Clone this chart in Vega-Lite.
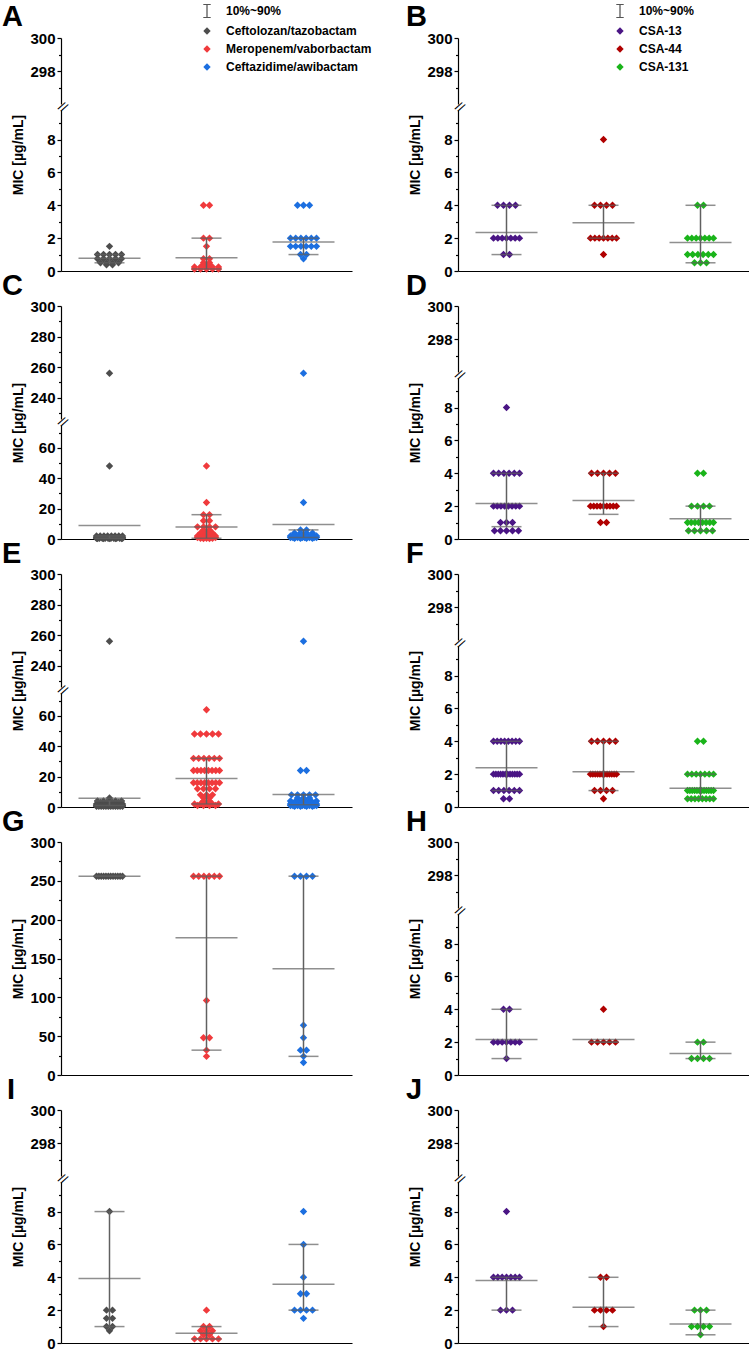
{
"$schema": "https://vega.github.io/schema/vega-lite/v6.json",
"padding": {"left": 2, "top": 3, "right": 0, "bottom": 2},
"background": "white",
"datasets": {
"pts": [
{"p":"A","g":"CT","v":1.5},{"p":"A","g":"CT","v":1},{"p":"A","g":"CT","v":1},{"p":"A","g":"CT","v":1},{"p":"A","g":"CT","v":1},{"p":"A","g":"CT","v":1},{"p":"A","g":"CT","v":0.75},{"p":"A","g":"CT","v":0.75},{"p":"A","g":"CT","v":0.75},{"p":"A","g":"CT","v":0.75},{"p":"A","g":"CT","v":0.75},{"p":"A","g":"CT","v":0.5},{"p":"A","g":"CT","v":0.5},{"p":"A","g":"CT","v":0.5},{"p":"A","g":"CT","v":0.5},{"p":"A","g":"CT","v":0.38},{"p":"A","g":"CT","v":0.38},
{"p":"A","g":"MV","v":4},{"p":"A","g":"MV","v":4},{"p":"A","g":"MV","v":2},{"p":"A","g":"MV","v":2},{"p":"A","g":"MV","v":1.5},{"p":"A","g":"MV","v":0.75},{"p":"A","g":"MV","v":0.75},{"p":"A","g":"MV","v":0.5},{"p":"A","g":"MV","v":0.5},{"p":"A","g":"MV","v":0.38},{"p":"A","g":"MV","v":0.38},{"p":"A","g":"MV","v":0.25},{"p":"A","g":"MV","v":0.25},{"p":"A","g":"MV","v":0.25},{"p":"A","g":"MV","v":0.25},{"p":"A","g":"MV","v":0.25},{"p":"A","g":"MV","v":0.125},{"p":"A","g":"MV","v":0.125},{"p":"A","g":"MV","v":0.125},{"p":"A","g":"MV","v":0.125},{"p":"A","g":"MV","v":0.125},
{"p":"A","g":"CA","v":4},{"p":"A","g":"CA","v":4},{"p":"A","g":"CA","v":4},{"p":"A","g":"CA","v":2},{"p":"A","g":"CA","v":2},{"p":"A","g":"CA","v":2},{"p":"A","g":"CA","v":2},{"p":"A","g":"CA","v":2},{"p":"A","g":"CA","v":2},{"p":"A","g":"CA","v":1.5},{"p":"A","g":"CA","v":1.5},{"p":"A","g":"CA","v":1.5},{"p":"A","g":"CA","v":1.5},{"p":"A","g":"CA","v":1.5},{"p":"A","g":"CA","v":1.5},{"p":"A","g":"CA","v":1},{"p":"A","g":"CA","v":1},{"p":"A","g":"CA","v":0.75},
{"p":"B","g":"CSA-13","v":4},{"p":"B","g":"CSA-13","v":4},{"p":"B","g":"CSA-13","v":4},{"p":"B","g":"CSA-13","v":4},{"p":"B","g":"CSA-13","v":2},{"p":"B","g":"CSA-13","v":2},{"p":"B","g":"CSA-13","v":2},{"p":"B","g":"CSA-13","v":2},{"p":"B","g":"CSA-13","v":2},{"p":"B","g":"CSA-13","v":2},{"p":"B","g":"CSA-13","v":2},{"p":"B","g":"CSA-13","v":1},{"p":"B","g":"CSA-13","v":1},
{"p":"B","g":"CSA-44","v":8},{"p":"B","g":"CSA-44","v":4},{"p":"B","g":"CSA-44","v":4},{"p":"B","g":"CSA-44","v":4},{"p":"B","g":"CSA-44","v":4},{"p":"B","g":"CSA-44","v":2},{"p":"B","g":"CSA-44","v":2},{"p":"B","g":"CSA-44","v":2},{"p":"B","g":"CSA-44","v":2},{"p":"B","g":"CSA-44","v":2},{"p":"B","g":"CSA-44","v":2},{"p":"B","g":"CSA-44","v":2},{"p":"B","g":"CSA-44","v":1},
{"p":"B","g":"CSA-131","v":4},{"p":"B","g":"CSA-131","v":4},{"p":"B","g":"CSA-131","v":2},{"p":"B","g":"CSA-131","v":2},{"p":"B","g":"CSA-131","v":2},{"p":"B","g":"CSA-131","v":2},{"p":"B","g":"CSA-131","v":2},{"p":"B","g":"CSA-131","v":2},{"p":"B","g":"CSA-131","v":2},{"p":"B","g":"CSA-131","v":1},{"p":"B","g":"CSA-131","v":1},{"p":"B","g":"CSA-131","v":1},{"p":"B","g":"CSA-131","v":1},{"p":"B","g":"CSA-131","v":1},{"p":"B","g":"CSA-131","v":1},{"p":"B","g":"CSA-131","v":0.5},{"p":"B","g":"CSA-131","v":0.5},{"p":"B","g":"CSA-131","v":0.5},
{"p":"C","g":"CT","v":256},{"p":"C","g":"CT","v":48},{"p":"C","g":"CT","v":2},{"p":"C","g":"CT","v":2},{"p":"C","g":"CT","v":2},{"p":"C","g":"CT","v":2},{"p":"C","g":"CT","v":2},{"p":"C","g":"CT","v":2},{"p":"C","g":"CT","v":2},{"p":"C","g":"CT","v":2},{"p":"C","g":"CT","v":1},{"p":"C","g":"CT","v":1},{"p":"C","g":"CT","v":1},{"p":"C","g":"CT","v":1},{"p":"C","g":"CT","v":1},{"p":"C","g":"CT","v":1},{"p":"C","g":"CT","v":1},{"p":"C","g":"CT","v":1},{"p":"C","g":"CT","v":1},{"p":"C","g":"CT","v":1},{"p":"C","g":"CT","v":0.5},{"p":"C","g":"CT","v":0.5},{"p":"C","g":"CT","v":0.5},{"p":"C","g":"CT","v":0.5},{"p":"C","g":"CT","v":0.5},{"p":"C","g":"CT","v":0.5},{"p":"C","g":"CT","v":0.5},{"p":"C","g":"CT","v":0.5},{"p":"C","g":"CT","v":0.5},{"p":"C","g":"CT","v":0.5},{"p":"C","g":"CT","v":0.25},{"p":"C","g":"CT","v":0.25},{"p":"C","g":"CT","v":0.25},{"p":"C","g":"CT","v":0.25},{"p":"C","g":"CT","v":0.25},
{"p":"C","g":"MV","v":48},{"p":"C","g":"MV","v":24},{"p":"C","g":"MV","v":16},{"p":"C","g":"MV","v":16},{"p":"C","g":"MV","v":12},{"p":"C","g":"MV","v":12},{"p":"C","g":"MV","v":8},{"p":"C","g":"MV","v":8},{"p":"C","g":"MV","v":8},{"p":"C","g":"MV","v":8},{"p":"C","g":"MV","v":6},{"p":"C","g":"MV","v":6},{"p":"C","g":"MV","v":4},{"p":"C","g":"MV","v":4},{"p":"C","g":"MV","v":4},{"p":"C","g":"MV","v":3},{"p":"C","g":"MV","v":2},{"p":"C","g":"MV","v":2},{"p":"C","g":"MV","v":2},{"p":"C","g":"MV","v":2},{"p":"C","g":"MV","v":1},{"p":"C","g":"MV","v":1},{"p":"C","g":"MV","v":1},{"p":"C","g":"MV","v":1},{"p":"C","g":"MV","v":0.5},{"p":"C","g":"MV","v":0.5},{"p":"C","g":"MV","v":0.5},{"p":"C","g":"MV","v":0.25},{"p":"C","g":"MV","v":0.25},
{"p":"C","g":"CA","v":256},{"p":"C","g":"CA","v":24},{"p":"C","g":"CA","v":6},{"p":"C","g":"CA","v":6},{"p":"C","g":"CA","v":4},{"p":"C","g":"CA","v":4},{"p":"C","g":"CA","v":4},{"p":"C","g":"CA","v":4},{"p":"C","g":"CA","v":3},{"p":"C","g":"CA","v":3},{"p":"C","g":"CA","v":3},{"p":"C","g":"CA","v":3},{"p":"C","g":"CA","v":2},{"p":"C","g":"CA","v":2},{"p":"C","g":"CA","v":2},{"p":"C","g":"CA","v":2},{"p":"C","g":"CA","v":2},{"p":"C","g":"CA","v":2},{"p":"C","g":"CA","v":1},{"p":"C","g":"CA","v":1},{"p":"C","g":"CA","v":1},{"p":"C","g":"CA","v":1},{"p":"C","g":"CA","v":1},{"p":"C","g":"CA","v":1},{"p":"C","g":"CA","v":1},{"p":"C","g":"CA","v":1},{"p":"C","g":"CA","v":1},{"p":"C","g":"CA","v":1},{"p":"C","g":"CA","v":1},{"p":"C","g":"CA","v":1},{"p":"C","g":"CA","v":0.5},{"p":"C","g":"CA","v":0.5},{"p":"C","g":"CA","v":0.5},{"p":"C","g":"CA","v":0.5},
{"p":"D","g":"CSA-13","v":8},{"p":"D","g":"CSA-13","v":4},{"p":"D","g":"CSA-13","v":4},{"p":"D","g":"CSA-13","v":4},{"p":"D","g":"CSA-13","v":4},{"p":"D","g":"CSA-13","v":4},{"p":"D","g":"CSA-13","v":4},{"p":"D","g":"CSA-13","v":2},{"p":"D","g":"CSA-13","v":2},{"p":"D","g":"CSA-13","v":2},{"p":"D","g":"CSA-13","v":2},{"p":"D","g":"CSA-13","v":2},{"p":"D","g":"CSA-13","v":2},{"p":"D","g":"CSA-13","v":2},{"p":"D","g":"CSA-13","v":2},{"p":"D","g":"CSA-13","v":1},{"p":"D","g":"CSA-13","v":1},{"p":"D","g":"CSA-13","v":1},{"p":"D","g":"CSA-13","v":0.5},{"p":"D","g":"CSA-13","v":0.5},{"p":"D","g":"CSA-13","v":0.5},{"p":"D","g":"CSA-13","v":0.5},{"p":"D","g":"CSA-13","v":0.5},
{"p":"D","g":"CSA-44","v":4},{"p":"D","g":"CSA-44","v":4},{"p":"D","g":"CSA-44","v":4},{"p":"D","g":"CSA-44","v":4},{"p":"D","g":"CSA-44","v":4},{"p":"D","g":"CSA-44","v":2},{"p":"D","g":"CSA-44","v":2},{"p":"D","g":"CSA-44","v":2},{"p":"D","g":"CSA-44","v":2},{"p":"D","g":"CSA-44","v":2},{"p":"D","g":"CSA-44","v":2},{"p":"D","g":"CSA-44","v":2},{"p":"D","g":"CSA-44","v":2},{"p":"D","g":"CSA-44","v":2},{"p":"D","g":"CSA-44","v":1},{"p":"D","g":"CSA-44","v":1},
{"p":"D","g":"CSA-131","v":4},{"p":"D","g":"CSA-131","v":4},{"p":"D","g":"CSA-131","v":2},{"p":"D","g":"CSA-131","v":2},{"p":"D","g":"CSA-131","v":2},{"p":"D","g":"CSA-131","v":2},{"p":"D","g":"CSA-131","v":1},{"p":"D","g":"CSA-131","v":1},{"p":"D","g":"CSA-131","v":1},{"p":"D","g":"CSA-131","v":1},{"p":"D","g":"CSA-131","v":1},{"p":"D","g":"CSA-131","v":1},{"p":"D","g":"CSA-131","v":1},{"p":"D","g":"CSA-131","v":1},{"p":"D","g":"CSA-131","v":0.5},{"p":"D","g":"CSA-131","v":0.5},{"p":"D","g":"CSA-131","v":0.5},{"p":"D","g":"CSA-131","v":0.5},{"p":"D","g":"CSA-131","v":0.5},
{"p":"E","g":"CT","v":256},{"p":"E","g":"CT","v":6},{"p":"E","g":"CT","v":4},{"p":"E","g":"CT","v":4},{"p":"E","g":"CT","v":4},{"p":"E","g":"CT","v":4},{"p":"E","g":"CT","v":4},{"p":"E","g":"CT","v":3},{"p":"E","g":"CT","v":3},{"p":"E","g":"CT","v":3},{"p":"E","g":"CT","v":3},{"p":"E","g":"CT","v":2},{"p":"E","g":"CT","v":2},{"p":"E","g":"CT","v":2},{"p":"E","g":"CT","v":2},{"p":"E","g":"CT","v":2},{"p":"E","g":"CT","v":2},{"p":"E","g":"CT","v":2},{"p":"E","g":"CT","v":2},{"p":"E","g":"CT","v":2},{"p":"E","g":"CT","v":2},{"p":"E","g":"CT","v":2},{"p":"E","g":"CT","v":2},{"p":"E","g":"CT","v":1.5},{"p":"E","g":"CT","v":1.5},{"p":"E","g":"CT","v":1.5},{"p":"E","g":"CT","v":1.5},{"p":"E","g":"CT","v":1.5},{"p":"E","g":"CT","v":1},{"p":"E","g":"CT","v":1},{"p":"E","g":"CT","v":1},{"p":"E","g":"CT","v":1},{"p":"E","g":"CT","v":1},{"p":"E","g":"CT","v":1},{"p":"E","g":"CT","v":1},{"p":"E","g":"CT","v":1},{"p":"E","g":"CT","v":1},{"p":"E","g":"CT","v":1},{"p":"E","g":"CT","v":1},{"p":"E","g":"CT","v":1},{"p":"E","g":"CT","v":1},{"p":"E","g":"CT","v":1},{"p":"E","g":"CT","v":1},{"p":"E","g":"CT","v":0.5},{"p":"E","g":"CT","v":0.5},{"p":"E","g":"CT","v":0.5},{"p":"E","g":"CT","v":0.5},{"p":"E","g":"CT","v":0.5},{"p":"E","g":"CT","v":0.5},{"p":"E","g":"CT","v":0.5},{"p":"E","g":"CT","v":0.5},{"p":"E","g":"CT","v":0.5},{"p":"E","g":"CT","v":0.5},{"p":"E","g":"CT","v":0.5},{"p":"E","g":"CT","v":0.5},
{"p":"E","g":"MV","v":64},{"p":"E","g":"MV","v":48},{"p":"E","g":"MV","v":48},{"p":"E","g":"MV","v":48},{"p":"E","g":"MV","v":48},{"p":"E","g":"MV","v":48},{"p":"E","g":"MV","v":32},{"p":"E","g":"MV","v":32},{"p":"E","g":"MV","v":32},{"p":"E","g":"MV","v":32},{"p":"E","g":"MV","v":32},{"p":"E","g":"MV","v":32},{"p":"E","g":"MV","v":24},{"p":"E","g":"MV","v":24},{"p":"E","g":"MV","v":24},{"p":"E","g":"MV","v":24},{"p":"E","g":"MV","v":24},{"p":"E","g":"MV","v":24},{"p":"E","g":"MV","v":24},{"p":"E","g":"MV","v":24},{"p":"E","g":"MV","v":16},{"p":"E","g":"MV","v":16},{"p":"E","g":"MV","v":16},{"p":"E","g":"MV","v":16},{"p":"E","g":"MV","v":16},{"p":"E","g":"MV","v":16},{"p":"E","g":"MV","v":16},{"p":"E","g":"MV","v":16},{"p":"E","g":"MV","v":12},{"p":"E","g":"MV","v":12},{"p":"E","g":"MV","v":12},{"p":"E","g":"MV","v":12},{"p":"E","g":"MV","v":8},{"p":"E","g":"MV","v":8},{"p":"E","g":"MV","v":8},{"p":"E","g":"MV","v":6},{"p":"E","g":"MV","v":6},{"p":"E","g":"MV","v":4},{"p":"E","g":"MV","v":4},{"p":"E","g":"MV","v":2},{"p":"E","g":"MV","v":2},{"p":"E","g":"MV","v":2},{"p":"E","g":"MV","v":2},{"p":"E","g":"MV","v":2},{"p":"E","g":"MV","v":1},{"p":"E","g":"MV","v":1},{"p":"E","g":"MV","v":1},{"p":"E","g":"MV","v":1},
{"p":"E","g":"CA","v":256},{"p":"E","g":"CA","v":24},{"p":"E","g":"CA","v":24},{"p":"E","g":"CA","v":8},{"p":"E","g":"CA","v":8},{"p":"E","g":"CA","v":8},{"p":"E","g":"CA","v":8},{"p":"E","g":"CA","v":8},{"p":"E","g":"CA","v":6},{"p":"E","g":"CA","v":6},{"p":"E","g":"CA","v":6},{"p":"E","g":"CA","v":4},{"p":"E","g":"CA","v":4},{"p":"E","g":"CA","v":4},{"p":"E","g":"CA","v":4},{"p":"E","g":"CA","v":4},{"p":"E","g":"CA","v":4},{"p":"E","g":"CA","v":3},{"p":"E","g":"CA","v":3},{"p":"E","g":"CA","v":3},{"p":"E","g":"CA","v":3},{"p":"E","g":"CA","v":3},{"p":"E","g":"CA","v":2},{"p":"E","g":"CA","v":2},{"p":"E","g":"CA","v":2},{"p":"E","g":"CA","v":2},{"p":"E","g":"CA","v":2},{"p":"E","g":"CA","v":2},{"p":"E","g":"CA","v":2},{"p":"E","g":"CA","v":2},{"p":"E","g":"CA","v":2},{"p":"E","g":"CA","v":2},{"p":"E","g":"CA","v":2},{"p":"E","g":"CA","v":2},{"p":"E","g":"CA","v":2},{"p":"E","g":"CA","v":2},{"p":"E","g":"CA","v":1},{"p":"E","g":"CA","v":1},{"p":"E","g":"CA","v":1},{"p":"E","g":"CA","v":1},{"p":"E","g":"CA","v":1},{"p":"E","g":"CA","v":1},{"p":"E","g":"CA","v":1},{"p":"E","g":"CA","v":1},{"p":"E","g":"CA","v":1},{"p":"E","g":"CA","v":1},{"p":"E","g":"CA","v":1},{"p":"E","g":"CA","v":1},{"p":"E","g":"CA","v":0.5},{"p":"E","g":"CA","v":0.5},{"p":"E","g":"CA","v":0.5},{"p":"E","g":"CA","v":0.5},
{"p":"F","g":"CSA-13","v":4},{"p":"F","g":"CSA-13","v":4},{"p":"F","g":"CSA-13","v":4},{"p":"F","g":"CSA-13","v":4},{"p":"F","g":"CSA-13","v":4},{"p":"F","g":"CSA-13","v":4},{"p":"F","g":"CSA-13","v":4},{"p":"F","g":"CSA-13","v":4},{"p":"F","g":"CSA-13","v":2},{"p":"F","g":"CSA-13","v":2},{"p":"F","g":"CSA-13","v":2},{"p":"F","g":"CSA-13","v":2},{"p":"F","g":"CSA-13","v":2},{"p":"F","g":"CSA-13","v":2},{"p":"F","g":"CSA-13","v":2},{"p":"F","g":"CSA-13","v":2},{"p":"F","g":"CSA-13","v":2},{"p":"F","g":"CSA-13","v":2},{"p":"F","g":"CSA-13","v":2},{"p":"F","g":"CSA-13","v":2},{"p":"F","g":"CSA-13","v":1},{"p":"F","g":"CSA-13","v":1},{"p":"F","g":"CSA-13","v":1},{"p":"F","g":"CSA-13","v":1},{"p":"F","g":"CSA-13","v":1},{"p":"F","g":"CSA-13","v":1},{"p":"F","g":"CSA-13","v":0.5},{"p":"F","g":"CSA-13","v":0.5},
{"p":"F","g":"CSA-44","v":4},{"p":"F","g":"CSA-44","v":4},{"p":"F","g":"CSA-44","v":4},{"p":"F","g":"CSA-44","v":4},{"p":"F","g":"CSA-44","v":4},{"p":"F","g":"CSA-44","v":2},{"p":"F","g":"CSA-44","v":2},{"p":"F","g":"CSA-44","v":2},{"p":"F","g":"CSA-44","v":2},{"p":"F","g":"CSA-44","v":2},{"p":"F","g":"CSA-44","v":2},{"p":"F","g":"CSA-44","v":2},{"p":"F","g":"CSA-44","v":2},{"p":"F","g":"CSA-44","v":2},{"p":"F","g":"CSA-44","v":2},{"p":"F","g":"CSA-44","v":2},{"p":"F","g":"CSA-44","v":2},{"p":"F","g":"CSA-44","v":1},{"p":"F","g":"CSA-44","v":1},{"p":"F","g":"CSA-44","v":1},{"p":"F","g":"CSA-44","v":1},{"p":"F","g":"CSA-44","v":0.5},
{"p":"F","g":"CSA-131","v":4},{"p":"F","g":"CSA-131","v":4},{"p":"F","g":"CSA-131","v":2},{"p":"F","g":"CSA-131","v":2},{"p":"F","g":"CSA-131","v":2},{"p":"F","g":"CSA-131","v":2},{"p":"F","g":"CSA-131","v":2},{"p":"F","g":"CSA-131","v":2},{"p":"F","g":"CSA-131","v":2},{"p":"F","g":"CSA-131","v":1},{"p":"F","g":"CSA-131","v":1},{"p":"F","g":"CSA-131","v":1},{"p":"F","g":"CSA-131","v":1},{"p":"F","g":"CSA-131","v":1},{"p":"F","g":"CSA-131","v":1},{"p":"F","g":"CSA-131","v":1},{"p":"F","g":"CSA-131","v":1},{"p":"F","g":"CSA-131","v":1},{"p":"F","g":"CSA-131","v":1},{"p":"F","g":"CSA-131","v":1},{"p":"F","g":"CSA-131","v":1},{"p":"F","g":"CSA-131","v":0.5},{"p":"F","g":"CSA-131","v":0.5},{"p":"F","g":"CSA-131","v":0.5},{"p":"F","g":"CSA-131","v":0.5},{"p":"F","g":"CSA-131","v":0.5},{"p":"F","g":"CSA-131","v":0.5},{"p":"F","g":"CSA-131","v":0.5},{"p":"F","g":"CSA-131","v":0.5},
{"p":"G","g":"CT","v":256},{"p":"G","g":"CT","v":256},{"p":"G","g":"CT","v":256},{"p":"G","g":"CT","v":256},{"p":"G","g":"CT","v":256},{"p":"G","g":"CT","v":256},{"p":"G","g":"CT","v":256},{"p":"G","g":"CT","v":256},{"p":"G","g":"CT","v":256},{"p":"G","g":"CT","v":256},{"p":"G","g":"CT","v":256},{"p":"G","g":"CT","v":256},
{"p":"G","g":"MV","v":256},{"p":"G","g":"MV","v":256},{"p":"G","g":"MV","v":256},{"p":"G","g":"MV","v":256},{"p":"G","g":"MV","v":256},{"p":"G","g":"MV","v":256},{"p":"G","g":"MV","v":96},{"p":"G","g":"MV","v":48},{"p":"G","g":"MV","v":48},{"p":"G","g":"MV","v":32},{"p":"G","g":"MV","v":24},
{"p":"G","g":"CA","v":256},{"p":"G","g":"CA","v":256},{"p":"G","g":"CA","v":256},{"p":"G","g":"CA","v":256},{"p":"G","g":"CA","v":64},{"p":"G","g":"CA","v":48},{"p":"G","g":"CA","v":32},{"p":"G","g":"CA","v":32},{"p":"G","g":"CA","v":24},{"p":"G","g":"CA","v":16},
{"p":"H","g":"CSA-13","v":4},{"p":"H","g":"CSA-13","v":4},{"p":"H","g":"CSA-13","v":2},{"p":"H","g":"CSA-13","v":2},{"p":"H","g":"CSA-13","v":2},{"p":"H","g":"CSA-13","v":2},{"p":"H","g":"CSA-13","v":2},{"p":"H","g":"CSA-13","v":2},{"p":"H","g":"CSA-13","v":2},{"p":"H","g":"CSA-13","v":1},
{"p":"H","g":"CSA-44","v":4},{"p":"H","g":"CSA-44","v":2},{"p":"H","g":"CSA-44","v":2},{"p":"H","g":"CSA-44","v":2},{"p":"H","g":"CSA-44","v":2},{"p":"H","g":"CSA-44","v":2},
{"p":"H","g":"CSA-131","v":2},{"p":"H","g":"CSA-131","v":2},{"p":"H","g":"CSA-131","v":1},{"p":"H","g":"CSA-131","v":1},{"p":"H","g":"CSA-131","v":1},{"p":"H","g":"CSA-131","v":1},
{"p":"I","g":"CT","v":8},{"p":"I","g":"CT","v":2},{"p":"I","g":"CT","v":2},{"p":"I","g":"CT","v":1.5},{"p":"I","g":"CT","v":1.5},{"p":"I","g":"CT","v":1},{"p":"I","g":"CT","v":1},{"p":"I","g":"CT","v":0.75},
{"p":"I","g":"MV","v":2},{"p":"I","g":"MV","v":1},{"p":"I","g":"MV","v":1},{"p":"I","g":"MV","v":0.75},{"p":"I","g":"MV","v":0.75},{"p":"I","g":"MV","v":0.75},{"p":"I","g":"MV","v":0.5},{"p":"I","g":"MV","v":0.5},{"p":"I","g":"MV","v":0.25},{"p":"I","g":"MV","v":0.25},{"p":"I","g":"MV","v":0.25},{"p":"I","g":"MV","v":0.25},{"p":"I","g":"MV","v":0.25},
{"p":"I","g":"CA","v":8},{"p":"I","g":"CA","v":6},{"p":"I","g":"CA","v":4},{"p":"I","g":"CA","v":3},{"p":"I","g":"CA","v":3},{"p":"I","g":"CA","v":2},{"p":"I","g":"CA","v":2},{"p":"I","g":"CA","v":2},{"p":"I","g":"CA","v":2},{"p":"I","g":"CA","v":1.5},
{"p":"J","g":"CSA-13","v":8},{"p":"J","g":"CSA-13","v":4},{"p":"J","g":"CSA-13","v":4},{"p":"J","g":"CSA-13","v":4},{"p":"J","g":"CSA-13","v":4},{"p":"J","g":"CSA-13","v":4},{"p":"J","g":"CSA-13","v":4},{"p":"J","g":"CSA-13","v":4},{"p":"J","g":"CSA-13","v":2},{"p":"J","g":"CSA-13","v":2},{"p":"J","g":"CSA-13","v":2},
{"p":"J","g":"CSA-44","v":4},{"p":"J","g":"CSA-44","v":4},{"p":"J","g":"CSA-44","v":2},{"p":"J","g":"CSA-44","v":2},{"p":"J","g":"CSA-44","v":2},{"p":"J","g":"CSA-44","v":2},{"p":"J","g":"CSA-44","v":1},
{"p":"J","g":"CSA-131","v":2},{"p":"J","g":"CSA-131","v":2},{"p":"J","g":"CSA-131","v":2},{"p":"J","g":"CSA-131","v":1},{"p":"J","g":"CSA-131","v":1},{"p":"J","g":"CSA-131","v":1},{"p":"J","g":"CSA-131","v":1},{"p":"J","g":"CSA-131","v":0.5}
],
"st": [
{"p":"A","g":"CT","m":0.78,"lo":0.5,"hi":1},{"p":"A","g":"MV","m":0.8,"lo":0.125,"hi":2},{"p":"A","g":"CA","m":1.76,"lo":1,"hi":2},
{"p":"B","g":"CSA-13","m":2.35,"lo":1,"hi":4},{"p":"B","g":"CSA-44","m":2.94,"lo":2,"hi":4},{"p":"B","g":"CSA-131","m":1.73,"lo":0.5,"hi":4},
{"p":"C","g":"CT","m":8.8,"lo":0.5,"hi":2},{"p":"C","g":"MV","m":7.9,"lo":0.5,"hi":16},{"p":"C","g":"CA","m":9.6,"lo":1,"hi":6},
{"p":"D","g":"CSA-13","m":2.16,"lo":0.75,"hi":4},{"p":"D","g":"CSA-44","m":2.35,"lo":1.5,"hi":4},{"p":"D","g":"CSA-131","m":1.24,"lo":0.5,"hi":2},
{"p":"E","g":"CT","m":5.7,"lo":1,"hi":4},{"p":"E","g":"MV","m":18.8,"lo":2,"hi":32},{"p":"E","g":"CA","m":8.3,"lo":1.5,"hi":8},
{"p":"F","g":"CSA-13","m":2.39,"lo":1,"hi":4},{"p":"F","g":"CSA-44","m":2.14,"lo":1,"hi":4},{"p":"F","g":"CSA-131","m":1.14,"lo":0.5,"hi":2},
{"p":"G","g":"CT","m":256,"lo":256,"hi":256},{"p":"G","g":"MV","m":176.8,"lo":32,"hi":256},{"p":"G","g":"CA","m":136.9,"lo":24,"hi":256},
{"p":"H","g":"CSA-13","m":2.16,"lo":1,"hi":4},{"p":"H","g":"CSA-44","m":2.16,"lo":2,"hi":2},{"p":"H","g":"CSA-131","m":1.31,"lo":1,"hi":2},
{"p":"I","g":"CT","m":3.92,"lo":1,"hi":8},{"p":"I","g":"MV","m":0.6,"lo":0.25,"hi":1},{"p":"I","g":"CA","m":3.57,"lo":2,"hi":6},
{"p":"J","g":"CSA-13","m":3.8,"lo":2,"hi":4},{"p":"J","g":"CSA-44","m":2.18,"lo":1,"hi":4},{"p":"J","g":"CSA-131","m":1.16,"lo":0.5,"hi":2}
],
"one": [{"k": 1}]
},
"config": {
"view": {"stroke": null},
"font": "Liberation Sans",
"point": {"shape": "diamond", "filled": true, "size": 55, "opacity": 1, "strokeWidth": 0},
"rule": {"color": "#606060", "strokeWidth": 1.5},
"tick": {"color": "#606060", "thickness": 1.5},
"text": {"text": "//", "font": "Liberation Sans", "fontSize": 13, "angle": 33, "align": "center", "baseline": "middle", "dy": -3, "color": "black"},
"axis": {"labelFont": "Liberation Sans", "labelFontSize": 15, "labelFontWeight": "bold", "labelColor": "black", "labelPadding": 2, "labelFlush": false, "labelOverlap": false, "domainColor": "black", "domainWidth": 1.2, "tickColor": "black", "tickWidth": 1.2, "tickSize": 4, "grid": false, "titleFont": "Liberation Sans", "titleFontSize": 14, "titleFontWeight": "bold", "titleColor": "black"},
"legend": {"orient": "none", "title": null, "padding": 0, "symbolSize": 55, "symbolStrokeWidth": 0, "labelFont": "Liberation Sans", "labelFontSize": 12, "labelFontWeight": "bold", "labelColor": "black", "rowPadding": 6, "labelOffset": 13},
"title": {"anchor": "start", "frame": "group", "fontSize": 29, "fontWeight": "bold", "font": "Liberation Sans", "color": "black", "offset": -2}
},
"columns": 2,
"spacing": {"row": 35, "column": 106},
"bounds": "flush",
"resolve": {"scale": {"x": "independent", "y": "independent", "color": "independent", "shape": "independent", "xOffset": "independent"}, "axis": {"x": "independent", "y": "independent"}, "legend": {"color": "independent", "shape": "independent"}},
"concat": [
{"width": 291, "height": 233, "title": {"text": "A", "dx": -59, "offset": -27},
 "encoding": {"x": {"field": "g", "type": "nominal", "scale": {"domain": ["CT","MV","CA"], "paddingInner": 0, "paddingOuter": 0}, "axis": {"domain": true, "ticks": false, "labels": false, "title": null}}},
 "layer": [
  {"data": {"name": "pts"}, "transform": [{"filter": "datum.p==='A' && datum.v>=296"}], "mark": "point",
   "encoding": {"y": {"field": "v", "type": "quantitative", "scale": {"domain": [296,300], "range": [66,0], "nice": false, "zero": false}, "axis": {"values": [298,300], "orient": "left", "title": null}}}},
  {"data": {"name": "pts"}, "transform": [{"filter": "false"}], "mark": "point",
   "encoding": {"y": {"field": "v", "type": "quantitative", "scale": {"domain": [296,300], "range": [66,0], "nice": false, "zero": false}, "axis": {"values": [297,299], "orient": "left", "labels": false, "domain": false, "tickSize": 2.5, "title": null}}}},
  {"data": {"name": "pts"}, "transform": [{"filter": "datum.p==='A' && datum.v<=9.8"}, {"joinaggregate": [{"op": "count", "as": "n"}], "groupby": ["g","v"]}, {"window": [{"op": "row_number", "as": "i"}], "groupby": ["g","v"]}, {"calculate": "(datum.i-(datum.n+1)/2)*min(6,26/max(datum.n-1,1))", "as": "jit"}], "mark": "point",
   "encoding": {"xOffset": {"field": "jit", "type": "quantitative", "scale": {"domain": [-48.5,48.5]}},
    "y": {"field": "v", "type": "quantitative", "scale": {"domain": [0,9.8], "range": [233,72], "nice": false, "zero": false}, "axis": {"values": [0,2,4,6,8], "orient": "left", "title": "MIC [µg/mL]", "titleX": -43, "titleY": 116.5, "titleAngle": -90, "titleAlign": "center", "titleBaseline": "middle"}},
    "color": {"field": "g", "type": "nominal", "scale": {"domain": ["Q","CT","MV","CA"], "range": ["#555555","#4d4d4d","#f03a3c","#1c6fe0"]}, "legend": {"legendX": 140, "legendY": -33, "labelExpr": "datum.label==='Q'?'10%~90%':datum.label==='CT'?'Ceftolozan/tazobactam':datum.label==='MV'?'Meropenem/vaborbactam':'Ceftazidime/awibactam'"}},
    "shape": {"field": "g", "type": "nominal", "scale": {"domain": ["Q","CT","MV","CA"], "range": ["M-1,-1.9H1V-1.6H0.17V1.6H1V1.9H-1V1.6H-0.17V-1.6H-1Z","diamond","diamond","diamond"]}, "legend": {"legendX": 140, "legendY": -33, "labelExpr": "datum.label==='Q'?'10%~90%':datum.label==='CT'?'Ceftolozan/tazobactam':datum.label==='MV'?'Meropenem/vaborbactam':'Ceftazidime/awibactam'"}}}},
  {"data": {"name": "st"}, "transform": [{"filter": "datum.p==='A'"}], "mark": "rule",
   "encoding": {"y": {"field": "lo", "type": "quantitative", "scale": {"domain": [0,9.8], "range": [233,72], "nice": false, "zero": false}, "axis": null}, "y2": {"field": "hi"}}},
  {"data": {"name": "st"}, "transform": [{"filter": "datum.p==='A'"}], "mark": {"type": "tick", "size": 62},
   "encoding": {"y": {"field": "m", "type": "quantitative", "scale": {"domain": [0,9.8], "range": [233,72], "nice": false, "zero": false}, "axis": {"values": [1,3,5,7,9], "orient": "left", "labels": false, "domain": false, "tickSize": 2.5, "title": null}}}},
  {"data": {"name": "st"}, "transform": [{"filter": "datum.p==='A'"}, {"fold": ["lo","hi"], "as": ["k","val"]}], "mark": {"type": "tick", "size": 30},
   "encoding": {"y": {"field": "val", "type": "quantitative", "scale": {"domain": [0,9.8], "range": [233,72], "nice": false, "zero": false}, "axis": null}}},
  {"data": {"name": "one"}, "mark": "text",
   "encoding": {"x": {"datum": "CT", "bandPosition": 0}, "y": {"datum": 9.8, "type": "quantitative", "scale": {"domain": [0,9.8], "range": [233,72], "nice": false, "zero": false}, "axis": null}}}
 ],
 "resolve": {"scale": {"y": "independent"}, "axis": {"y": "independent"}}},
{"width": 291, "height": 233, "title": {"text": "B", "dx": -52, "offset": -27},
 "encoding": {"x": {"field": "g", "type": "nominal", "scale": {"domain": ["CSA-13","CSA-44","CSA-131"], "paddingInner": 0, "paddingOuter": 0}, "axis": {"domain": true, "ticks": false, "labels": false, "title": null}}},
 "layer": [
  {"data": {"name": "pts"}, "transform": [{"filter": "datum.p==='B' && datum.v>=296"}], "mark": "point",
   "encoding": {"y": {"field": "v", "type": "quantitative", "scale": {"domain": [296,300], "range": [66,0], "nice": false, "zero": false}, "axis": {"values": [298,300], "orient": "left", "title": null}}}},
  {"data": {"name": "pts"}, "transform": [{"filter": "false"}], "mark": "point",
   "encoding": {"y": {"field": "v", "type": "quantitative", "scale": {"domain": [296,300], "range": [66,0], "nice": false, "zero": false}, "axis": {"values": [297,299], "orient": "left", "labels": false, "domain": false, "tickSize": 2.5, "title": null}}}},
  {"data": {"name": "pts"}, "transform": [{"filter": "datum.p==='B' && datum.v<=9.8"}, {"joinaggregate": [{"op": "count", "as": "n"}], "groupby": ["g","v"]}, {"window": [{"op": "row_number", "as": "i"}], "groupby": ["g","v"]}, {"calculate": "(datum.i-(datum.n+1)/2)*min(6,26/max(datum.n-1,1))", "as": "jit"}], "mark": "point",
   "encoding": {"xOffset": {"field": "jit", "type": "quantitative", "scale": {"domain": [-48.5,48.5]}},
    "y": {"field": "v", "type": "quantitative", "scale": {"domain": [0,9.8], "range": [233,72], "nice": false, "zero": false}, "axis": {"values": [0,2,4,6,8], "orient": "left", "title": "MIC [µg/mL]", "titleX": -43, "titleY": 116.5, "titleAngle": -90, "titleAlign": "center", "titleBaseline": "middle"}},
    "color": {"field": "g", "type": "nominal", "scale": {"domain": ["10%~90%","CSA-13","CSA-44","CSA-131"], "range": ["#555555","#4a1585","#b00000","#1ab41a"]}, "legend": {"legendX": 156, "legendY": -33}},
    "shape": {"field": "g", "type": "nominal", "scale": {"domain": ["10%~90%","CSA-13","CSA-44","CSA-131"], "range": ["M-1,-1.9H1V-1.6H0.17V1.6H1V1.9H-1V1.6H-0.17V-1.6H-1Z","diamond","diamond","diamond"]}, "legend": {"legendX": 156, "legendY": -33}}}},
  {"data": {"name": "st"}, "transform": [{"filter": "datum.p==='B'"}], "mark": "rule",
   "encoding": {"y": {"field": "lo", "type": "quantitative", "scale": {"domain": [0,9.8], "range": [233,72], "nice": false, "zero": false}, "axis": null}, "y2": {"field": "hi"}}},
  {"data": {"name": "st"}, "transform": [{"filter": "datum.p==='B'"}], "mark": {"type": "tick", "size": 62},
   "encoding": {"y": {"field": "m", "type": "quantitative", "scale": {"domain": [0,9.8], "range": [233,72], "nice": false, "zero": false}, "axis": {"values": [1,3,5,7,9], "orient": "left", "labels": false, "domain": false, "tickSize": 2.5, "title": null}}}},
  {"data": {"name": "st"}, "transform": [{"filter": "datum.p==='B'"}, {"fold": ["lo","hi"], "as": ["k","val"]}], "mark": {"type": "tick", "size": 30},
   "encoding": {"y": {"field": "val", "type": "quantitative", "scale": {"domain": [0,9.8], "range": [233,72], "nice": false, "zero": false}, "axis": null}}},
  {"data": {"name": "one"}, "mark": "text",
   "encoding": {"x": {"datum": "CSA-13", "bandPosition": 0}, "y": {"datum": 9.8, "type": "quantitative", "scale": {"domain": [0,9.8], "range": [233,72], "nice": false, "zero": false}, "axis": null}}}
 ],
 "resolve": {"scale": {"y": "independent"}, "axis": {"y": "independent"}}},
{"width": 291, "height": 233, "title": {"text": "C", "dx": -59},
 "encoding": {"x": {"field": "g", "type": "nominal", "scale": {"domain": ["CT","MV","CA"], "paddingInner": 0, "paddingOuter": 0}, "axis": {"domain": true, "ticks": false, "labels": false, "title": null}}},
 "layer": [
  {"data": {"name": "pts"}, "transform": [{"filter": "datum.p==='C' && datum.v>=226"}], "mark": "point",
   "encoding": {"y": {"field": "v", "type": "quantitative", "scale": {"domain": [226,300], "range": [113,0], "nice": false, "zero": false}, "axis": {"values": [240,260,280,300], "orient": "left", "title": null}},
    "color": {"field": "g", "type": "nominal", "scale": {"domain": ["Q","CT","MV","CA"], "range": ["#555555","#4d4d4d","#f03a3c","#1c6fe0"]}, "legend": null}}},
  {"data": {"name": "pts"}, "transform": [{"filter": "false"}], "mark": "point",
   "encoding": {"y": {"field": "v", "type": "quantitative", "scale": {"domain": [226,300], "range": [113,0], "nice": false, "zero": false}, "axis": {"values": [230,250,270,290], "orient": "left", "labels": false, "domain": false, "tickSize": 2.5, "title": null}}}},
  {"data": {"name": "pts"}, "transform": [{"filter": "datum.p==='C' && datum.v<=75"}, {"joinaggregate": [{"op": "count", "as": "n"}], "groupby": ["g","v"]}, {"window": [{"op": "row_number", "as": "i"}], "groupby": ["g","v"]}, {"calculate": "(datum.i-(datum.n+1)/2)*min(6,26/max(datum.n-1,1))", "as": "jit"}], "mark": "point",
   "encoding": {"xOffset": {"field": "jit", "type": "quantitative", "scale": {"domain": [-48.5,48.5]}},
    "y": {"field": "v", "type": "quantitative", "scale": {"domain": [0,75], "range": [233,119], "nice": false, "zero": false}, "axis": {"values": [0,20,40,60], "orient": "left", "title": "MIC [µg/mL]", "titleX": -43, "titleY": 116.5, "titleAngle": -90, "titleAlign": "center", "titleBaseline": "middle"}},
    "color": {"field": "g", "type": "nominal", "scale": {"domain": ["Q","CT","MV","CA"], "range": ["#555555","#4d4d4d","#f03a3c","#1c6fe0"]}, "legend": null}}},
  {"data": {"name": "st"}, "transform": [{"filter": "datum.p==='C'"}], "mark": "rule",
   "encoding": {"y": {"field": "lo", "type": "quantitative", "scale": {"domain": [0,75], "range": [233,119], "nice": false, "zero": false}, "axis": null}, "y2": {"field": "hi"}}},
  {"data": {"name": "st"}, "transform": [{"filter": "datum.p==='C'"}], "mark": {"type": "tick", "size": 62},
   "encoding": {"y": {"field": "m", "type": "quantitative", "scale": {"domain": [0,75], "range": [233,119], "nice": false, "zero": false}, "axis": {"values": [10,30,50,70], "orient": "left", "labels": false, "domain": false, "tickSize": 2.5, "title": null}}}},
  {"data": {"name": "st"}, "transform": [{"filter": "datum.p==='C'"}, {"fold": ["lo","hi"], "as": ["k","val"]}], "mark": {"type": "tick", "size": 30},
   "encoding": {"y": {"field": "val", "type": "quantitative", "scale": {"domain": [0,75], "range": [233,119], "nice": false, "zero": false}, "axis": null}}},
  {"data": {"name": "one"}, "mark": "text",
   "encoding": {"x": {"datum": "CT", "bandPosition": 0}, "y": {"datum": 75, "type": "quantitative", "scale": {"domain": [0,75], "range": [233,119], "nice": false, "zero": false}, "axis": null}}}
 ],
 "resolve": {"scale": {"y": "independent"}, "axis": {"y": "independent"}}},
{"width": 291, "height": 233, "title": {"text": "D", "dx": -52},
 "encoding": {"x": {"field": "g", "type": "nominal", "scale": {"domain": ["CSA-13","CSA-44","CSA-131"], "paddingInner": 0, "paddingOuter": 0}, "axis": {"domain": true, "ticks": false, "labels": false, "title": null}}},
 "layer": [
  {"data": {"name": "pts"}, "transform": [{"filter": "datum.p==='D' && datum.v>=296"}], "mark": "point",
   "encoding": {"y": {"field": "v", "type": "quantitative", "scale": {"domain": [296,300], "range": [66,0], "nice": false, "zero": false}, "axis": {"values": [298,300], "orient": "left", "title": null}}}},
  {"data": {"name": "pts"}, "transform": [{"filter": "false"}], "mark": "point",
   "encoding": {"y": {"field": "v", "type": "quantitative", "scale": {"domain": [296,300], "range": [66,0], "nice": false, "zero": false}, "axis": {"values": [297,299], "orient": "left", "labels": false, "domain": false, "tickSize": 2.5, "title": null}}}},
  {"data": {"name": "pts"}, "transform": [{"filter": "datum.p==='D' && datum.v<=9.8"}, {"joinaggregate": [{"op": "count", "as": "n"}], "groupby": ["g","v"]}, {"window": [{"op": "row_number", "as": "i"}], "groupby": ["g","v"]}, {"calculate": "(datum.i-(datum.n+1)/2)*min(6,26/max(datum.n-1,1))", "as": "jit"}], "mark": "point",
   "encoding": {"xOffset": {"field": "jit", "type": "quantitative", "scale": {"domain": [-48.5,48.5]}},
    "y": {"field": "v", "type": "quantitative", "scale": {"domain": [0,9.8], "range": [233,72], "nice": false, "zero": false}, "axis": {"values": [0,2,4,6,8], "orient": "left", "title": "MIC [µg/mL]", "titleX": -43, "titleY": 116.5, "titleAngle": -90, "titleAlign": "center", "titleBaseline": "middle"}},
    "color": {"field": "g", "type": "nominal", "scale": {"domain": ["10%~90%","CSA-13","CSA-44","CSA-131"], "range": ["#555555","#4a1585","#b00000","#1ab41a"]}, "legend": null}}},
  {"data": {"name": "st"}, "transform": [{"filter": "datum.p==='D'"}], "mark": "rule",
   "encoding": {"y": {"field": "lo", "type": "quantitative", "scale": {"domain": [0,9.8], "range": [233,72], "nice": false, "zero": false}, "axis": null}, "y2": {"field": "hi"}}},
  {"data": {"name": "st"}, "transform": [{"filter": "datum.p==='D'"}], "mark": {"type": "tick", "size": 62},
   "encoding": {"y": {"field": "m", "type": "quantitative", "scale": {"domain": [0,9.8], "range": [233,72], "nice": false, "zero": false}, "axis": {"values": [1,3,5,7,9], "orient": "left", "labels": false, "domain": false, "tickSize": 2.5, "title": null}}}},
  {"data": {"name": "st"}, "transform": [{"filter": "datum.p==='D'"}, {"fold": ["lo","hi"], "as": ["k","val"]}], "mark": {"type": "tick", "size": 30},
   "encoding": {"y": {"field": "val", "type": "quantitative", "scale": {"domain": [0,9.8], "range": [233,72], "nice": false, "zero": false}, "axis": null}}},
  {"data": {"name": "one"}, "mark": "text",
   "encoding": {"x": {"datum": "CSA-13", "bandPosition": 0}, "y": {"datum": 9.8, "type": "quantitative", "scale": {"domain": [0,9.8], "range": [233,72], "nice": false, "zero": false}, "axis": null}}}
 ],
 "resolve": {"scale": {"y": "independent"}, "axis": {"y": "independent"}}},
{"width": 291, "height": 233, "title": {"text": "E", "dx": -59},
 "encoding": {"x": {"field": "g", "type": "nominal", "scale": {"domain": ["CT","MV","CA"], "paddingInner": 0, "paddingOuter": 0}, "axis": {"domain": true, "ticks": false, "labels": false, "title": null}}},
 "layer": [
  {"data": {"name": "pts"}, "transform": [{"filter": "datum.p==='E' && datum.v>=226"}], "mark": "point",
   "encoding": {"y": {"field": "v", "type": "quantitative", "scale": {"domain": [226,300], "range": [113,0], "nice": false, "zero": false}, "axis": {"values": [240,260,280,300], "orient": "left", "title": null}},
    "color": {"field": "g", "type": "nominal", "scale": {"domain": ["Q","CT","MV","CA"], "range": ["#555555","#4d4d4d","#f03a3c","#1c6fe0"]}, "legend": null}}},
  {"data": {"name": "pts"}, "transform": [{"filter": "false"}], "mark": "point",
   "encoding": {"y": {"field": "v", "type": "quantitative", "scale": {"domain": [226,300], "range": [113,0], "nice": false, "zero": false}, "axis": {"values": [230,250,270,290], "orient": "left", "labels": false, "domain": false, "tickSize": 2.5, "title": null}}}},
  {"data": {"name": "pts"}, "transform": [{"filter": "datum.p==='E' && datum.v<=75"}, {"joinaggregate": [{"op": "count", "as": "n"}], "groupby": ["g","v"]}, {"window": [{"op": "row_number", "as": "i"}], "groupby": ["g","v"]}, {"calculate": "(datum.i-(datum.n+1)/2)*min(6,26/max(datum.n-1,1))", "as": "jit"}], "mark": "point",
   "encoding": {"xOffset": {"field": "jit", "type": "quantitative", "scale": {"domain": [-48.5,48.5]}},
    "y": {"field": "v", "type": "quantitative", "scale": {"domain": [0,75], "range": [233,119], "nice": false, "zero": false}, "axis": {"values": [0,20,40,60], "orient": "left", "title": "MIC [µg/mL]", "titleX": -43, "titleY": 116.5, "titleAngle": -90, "titleAlign": "center", "titleBaseline": "middle"}},
    "color": {"field": "g", "type": "nominal", "scale": {"domain": ["Q","CT","MV","CA"], "range": ["#555555","#4d4d4d","#f03a3c","#1c6fe0"]}, "legend": null}}},
  {"data": {"name": "st"}, "transform": [{"filter": "datum.p==='E'"}], "mark": "rule",
   "encoding": {"y": {"field": "lo", "type": "quantitative", "scale": {"domain": [0,75], "range": [233,119], "nice": false, "zero": false}, "axis": null}, "y2": {"field": "hi"}}},
  {"data": {"name": "st"}, "transform": [{"filter": "datum.p==='E'"}], "mark": {"type": "tick", "size": 62},
   "encoding": {"y": {"field": "m", "type": "quantitative", "scale": {"domain": [0,75], "range": [233,119], "nice": false, "zero": false}, "axis": {"values": [10,30,50,70], "orient": "left", "labels": false, "domain": false, "tickSize": 2.5, "title": null}}}},
  {"data": {"name": "st"}, "transform": [{"filter": "datum.p==='E'"}, {"fold": ["lo","hi"], "as": ["k","val"]}], "mark": {"type": "tick", "size": 30},
   "encoding": {"y": {"field": "val", "type": "quantitative", "scale": {"domain": [0,75], "range": [233,119], "nice": false, "zero": false}, "axis": null}}},
  {"data": {"name": "one"}, "mark": "text",
   "encoding": {"x": {"datum": "CT", "bandPosition": 0}, "y": {"datum": 75, "type": "quantitative", "scale": {"domain": [0,75], "range": [233,119], "nice": false, "zero": false}, "axis": null}}}
 ],
 "resolve": {"scale": {"y": "independent"}, "axis": {"y": "independent"}}},
{"width": 291, "height": 233, "title": {"text": "F", "dx": -52},
 "encoding": {"x": {"field": "g", "type": "nominal", "scale": {"domain": ["CSA-13","CSA-44","CSA-131"], "paddingInner": 0, "paddingOuter": 0}, "axis": {"domain": true, "ticks": false, "labels": false, "title": null}}},
 "layer": [
  {"data": {"name": "pts"}, "transform": [{"filter": "datum.p==='F' && datum.v>=296"}], "mark": "point",
   "encoding": {"y": {"field": "v", "type": "quantitative", "scale": {"domain": [296,300], "range": [66,0], "nice": false, "zero": false}, "axis": {"values": [298,300], "orient": "left", "title": null}}}},
  {"data": {"name": "pts"}, "transform": [{"filter": "false"}], "mark": "point",
   "encoding": {"y": {"field": "v", "type": "quantitative", "scale": {"domain": [296,300], "range": [66,0], "nice": false, "zero": false}, "axis": {"values": [297,299], "orient": "left", "labels": false, "domain": false, "tickSize": 2.5, "title": null}}}},
  {"data": {"name": "pts"}, "transform": [{"filter": "datum.p==='F' && datum.v<=9.8"}, {"joinaggregate": [{"op": "count", "as": "n"}], "groupby": ["g","v"]}, {"window": [{"op": "row_number", "as": "i"}], "groupby": ["g","v"]}, {"calculate": "(datum.i-(datum.n+1)/2)*min(6,26/max(datum.n-1,1))", "as": "jit"}], "mark": "point",
   "encoding": {"xOffset": {"field": "jit", "type": "quantitative", "scale": {"domain": [-48.5,48.5]}},
    "y": {"field": "v", "type": "quantitative", "scale": {"domain": [0,9.8], "range": [233,72], "nice": false, "zero": false}, "axis": {"values": [0,2,4,6,8], "orient": "left", "title": "MIC [µg/mL]", "titleX": -43, "titleY": 116.5, "titleAngle": -90, "titleAlign": "center", "titleBaseline": "middle"}},
    "color": {"field": "g", "type": "nominal", "scale": {"domain": ["10%~90%","CSA-13","CSA-44","CSA-131"], "range": ["#555555","#4a1585","#b00000","#1ab41a"]}, "legend": null}}},
  {"data": {"name": "st"}, "transform": [{"filter": "datum.p==='F'"}], "mark": "rule",
   "encoding": {"y": {"field": "lo", "type": "quantitative", "scale": {"domain": [0,9.8], "range": [233,72], "nice": false, "zero": false}, "axis": null}, "y2": {"field": "hi"}}},
  {"data": {"name": "st"}, "transform": [{"filter": "datum.p==='F'"}], "mark": {"type": "tick", "size": 62},
   "encoding": {"y": {"field": "m", "type": "quantitative", "scale": {"domain": [0,9.8], "range": [233,72], "nice": false, "zero": false}, "axis": {"values": [1,3,5,7,9], "orient": "left", "labels": false, "domain": false, "tickSize": 2.5, "title": null}}}},
  {"data": {"name": "st"}, "transform": [{"filter": "datum.p==='F'"}, {"fold": ["lo","hi"], "as": ["k","val"]}], "mark": {"type": "tick", "size": 30},
   "encoding": {"y": {"field": "val", "type": "quantitative", "scale": {"domain": [0,9.8], "range": [233,72], "nice": false, "zero": false}, "axis": null}}},
  {"data": {"name": "one"}, "mark": "text",
   "encoding": {"x": {"datum": "CSA-13", "bandPosition": 0}, "y": {"datum": 9.8, "type": "quantitative", "scale": {"domain": [0,9.8], "range": [233,72], "nice": false, "zero": false}, "axis": null}}}
 ],
 "resolve": {"scale": {"y": "independent"}, "axis": {"y": "independent"}}},
{"width": 291, "height": 233, "title": {"text": "G", "dx": -59},
 "encoding": {"x": {"field": "g", "type": "nominal", "scale": {"domain": ["CT","MV","CA"], "paddingInner": 0, "paddingOuter": 0}, "axis": {"domain": true, "ticks": false, "labels": false, "title": null}}},
 "layer": [
  {"data": {"name": "pts"}, "transform": [{"filter": "datum.p==='G'"}, {"joinaggregate": [{"op": "count", "as": "n"}], "groupby": ["g","v"]}, {"window": [{"op": "row_number", "as": "i"}], "groupby": ["g","v"]}, {"calculate": "(datum.i-(datum.n+1)/2)*min(6,26/max(datum.n-1,1))", "as": "jit"}], "mark": "point",
   "encoding": {"xOffset": {"field": "jit", "type": "quantitative", "scale": {"domain": [-48.5,48.5]}},
    "y": {"field": "v", "type": "quantitative", "scale": {"domain": [0,300], "range": [233,0], "nice": false, "zero": false}, "axis": {"values": [0,50,100,150,200,250,300], "orient": "left", "title": "MIC [µg/mL]", "titleX": -43, "titleY": 116.5, "titleAngle": -90, "titleAlign": "center", "titleBaseline": "middle"}},
    "color": {"field": "g", "type": "nominal", "scale": {"domain": ["Q","CT","MV","CA"], "range": ["#555555","#4d4d4d","#f03a3c","#1c6fe0"]}, "legend": null}}},
  {"data": {"name": "st"}, "transform": [{"filter": "datum.p==='G'"}], "mark": "rule",
   "encoding": {"y": {"field": "lo", "type": "quantitative", "scale": {"domain": [0,300], "range": [233,0], "nice": false, "zero": false}, "axis": null}, "y2": {"field": "hi"}}},
  {"data": {"name": "st"}, "transform": [{"filter": "datum.p==='G'"}], "mark": {"type": "tick", "size": 62},
   "encoding": {"y": {"field": "m", "type": "quantitative", "scale": {"domain": [0,300], "range": [233,0], "nice": false, "zero": false}, "axis": {"values": [25,75,125,175,225,275], "orient": "left", "labels": false, "domain": false, "tickSize": 2.5, "title": null}}}},
  {"data": {"name": "st"}, "transform": [{"filter": "datum.p==='G'"}, {"fold": ["lo","hi"], "as": ["k","val"]}], "mark": {"type": "tick", "size": 30},
   "encoding": {"y": {"field": "val", "type": "quantitative", "scale": {"domain": [0,300], "range": [233,0], "nice": false, "zero": false}, "axis": null}}}
 ],
 "resolve": {"scale": {"y": "independent"}, "axis": {"y": "independent"}}},
{"width": 291, "height": 233, "title": {"text": "H", "dx": -52},
 "encoding": {"x": {"field": "g", "type": "nominal", "scale": {"domain": ["CSA-13","CSA-44","CSA-131"], "paddingInner": 0, "paddingOuter": 0}, "axis": {"domain": true, "ticks": false, "labels": false, "title": null}}},
 "layer": [
  {"data": {"name": "pts"}, "transform": [{"filter": "datum.p==='H' && datum.v>=296"}], "mark": "point",
   "encoding": {"y": {"field": "v", "type": "quantitative", "scale": {"domain": [296,300], "range": [66,0], "nice": false, "zero": false}, "axis": {"values": [298,300], "orient": "left", "title": null}}}},
  {"data": {"name": "pts"}, "transform": [{"filter": "false"}], "mark": "point",
   "encoding": {"y": {"field": "v", "type": "quantitative", "scale": {"domain": [296,300], "range": [66,0], "nice": false, "zero": false}, "axis": {"values": [297,299], "orient": "left", "labels": false, "domain": false, "tickSize": 2.5, "title": null}}}},
  {"data": {"name": "pts"}, "transform": [{"filter": "datum.p==='H' && datum.v<=9.8"}, {"joinaggregate": [{"op": "count", "as": "n"}], "groupby": ["g","v"]}, {"window": [{"op": "row_number", "as": "i"}], "groupby": ["g","v"]}, {"calculate": "(datum.i-(datum.n+1)/2)*min(6,26/max(datum.n-1,1))", "as": "jit"}], "mark": "point",
   "encoding": {"xOffset": {"field": "jit", "type": "quantitative", "scale": {"domain": [-48.5,48.5]}},
    "y": {"field": "v", "type": "quantitative", "scale": {"domain": [0,9.8], "range": [233,72], "nice": false, "zero": false}, "axis": {"values": [0,2,4,6,8], "orient": "left", "title": "MIC [µg/mL]", "titleX": -43, "titleY": 116.5, "titleAngle": -90, "titleAlign": "center", "titleBaseline": "middle"}},
    "color": {"field": "g", "type": "nominal", "scale": {"domain": ["10%~90%","CSA-13","CSA-44","CSA-131"], "range": ["#555555","#4a1585","#b00000","#1ab41a"]}, "legend": null}}},
  {"data": {"name": "st"}, "transform": [{"filter": "datum.p==='H'"}], "mark": "rule",
   "encoding": {"y": {"field": "lo", "type": "quantitative", "scale": {"domain": [0,9.8], "range": [233,72], "nice": false, "zero": false}, "axis": null}, "y2": {"field": "hi"}}},
  {"data": {"name": "st"}, "transform": [{"filter": "datum.p==='H'"}], "mark": {"type": "tick", "size": 62},
   "encoding": {"y": {"field": "m", "type": "quantitative", "scale": {"domain": [0,9.8], "range": [233,72], "nice": false, "zero": false}, "axis": {"values": [1,3,5,7,9], "orient": "left", "labels": false, "domain": false, "tickSize": 2.5, "title": null}}}},
  {"data": {"name": "st"}, "transform": [{"filter": "datum.p==='H'"}, {"fold": ["lo","hi"], "as": ["k","val"]}], "mark": {"type": "tick", "size": 30},
   "encoding": {"y": {"field": "val", "type": "quantitative", "scale": {"domain": [0,9.8], "range": [233,72], "nice": false, "zero": false}, "axis": null}}},
  {"data": {"name": "one"}, "mark": "text",
   "encoding": {"x": {"datum": "CSA-13", "bandPosition": 0}, "y": {"datum": 9.8, "type": "quantitative", "scale": {"domain": [0,9.8], "range": [233,72], "nice": false, "zero": false}, "axis": null}}}
 ],
 "resolve": {"scale": {"y": "independent"}, "axis": {"y": "independent"}}},
{"width": 291, "height": 233, "title": {"text": "I", "dx": -54},
 "encoding": {"x": {"field": "g", "type": "nominal", "scale": {"domain": ["CT","MV","CA"], "paddingInner": 0, "paddingOuter": 0}, "axis": {"domain": true, "ticks": false, "labels": false, "title": null}}},
 "layer": [
  {"data": {"name": "pts"}, "transform": [{"filter": "datum.p==='I' && datum.v>=296"}], "mark": "point",
   "encoding": {"y": {"field": "v", "type": "quantitative", "scale": {"domain": [296,300], "range": [66,0], "nice": false, "zero": false}, "axis": {"values": [298,300], "orient": "left", "title": null}}}},
  {"data": {"name": "pts"}, "transform": [{"filter": "false"}], "mark": "point",
   "encoding": {"y": {"field": "v", "type": "quantitative", "scale": {"domain": [296,300], "range": [66,0], "nice": false, "zero": false}, "axis": {"values": [297,299], "orient": "left", "labels": false, "domain": false, "tickSize": 2.5, "title": null}}}},
  {"data": {"name": "pts"}, "transform": [{"filter": "datum.p==='I' && datum.v<=9.8"}, {"joinaggregate": [{"op": "count", "as": "n"}], "groupby": ["g","v"]}, {"window": [{"op": "row_number", "as": "i"}], "groupby": ["g","v"]}, {"calculate": "(datum.i-(datum.n+1)/2)*min(6,26/max(datum.n-1,1))", "as": "jit"}], "mark": "point",
   "encoding": {"xOffset": {"field": "jit", "type": "quantitative", "scale": {"domain": [-48.5,48.5]}},
    "y": {"field": "v", "type": "quantitative", "scale": {"domain": [0,9.8], "range": [233,72], "nice": false, "zero": false}, "axis": {"values": [0,2,4,6,8], "orient": "left", "title": "MIC [µg/mL]", "titleX": -43, "titleY": 116.5, "titleAngle": -90, "titleAlign": "center", "titleBaseline": "middle"}},
    "color": {"field": "g", "type": "nominal", "scale": {"domain": ["Q","CT","MV","CA"], "range": ["#555555","#4d4d4d","#f03a3c","#1c6fe0"]}, "legend": null}}},
  {"data": {"name": "st"}, "transform": [{"filter": "datum.p==='I'"}], "mark": "rule",
   "encoding": {"y": {"field": "lo", "type": "quantitative", "scale": {"domain": [0,9.8], "range": [233,72], "nice": false, "zero": false}, "axis": null}, "y2": {"field": "hi"}}},
  {"data": {"name": "st"}, "transform": [{"filter": "datum.p==='I'"}], "mark": {"type": "tick", "size": 62},
   "encoding": {"y": {"field": "m", "type": "quantitative", "scale": {"domain": [0,9.8], "range": [233,72], "nice": false, "zero": false}, "axis": {"values": [1,3,5,7,9], "orient": "left", "labels": false, "domain": false, "tickSize": 2.5, "title": null}}}},
  {"data": {"name": "st"}, "transform": [{"filter": "datum.p==='I'"}, {"fold": ["lo","hi"], "as": ["k","val"]}], "mark": {"type": "tick", "size": 30},
   "encoding": {"y": {"field": "val", "type": "quantitative", "scale": {"domain": [0,9.8], "range": [233,72], "nice": false, "zero": false}, "axis": null}}},
  {"data": {"name": "one"}, "mark": "text",
   "encoding": {"x": {"datum": "CT", "bandPosition": 0}, "y": {"datum": 9.8, "type": "quantitative", "scale": {"domain": [0,9.8], "range": [233,72], "nice": false, "zero": false}, "axis": null}}}
 ],
 "resolve": {"scale": {"y": "independent"}, "axis": {"y": "independent"}}},
{"width": 291, "height": 233, "title": {"text": "J", "dx": -52},
 "encoding": {"x": {"field": "g", "type": "nominal", "scale": {"domain": ["CSA-13","CSA-44","CSA-131"], "paddingInner": 0, "paddingOuter": 0}, "axis": {"domain": true, "ticks": false, "labels": false, "title": null}}},
 "layer": [
  {"data": {"name": "pts"}, "transform": [{"filter": "datum.p==='J' && datum.v>=296"}], "mark": "point",
   "encoding": {"y": {"field": "v", "type": "quantitative", "scale": {"domain": [296,300], "range": [66,0], "nice": false, "zero": false}, "axis": {"values": [298,300], "orient": "left", "title": null}}}},
  {"data": {"name": "pts"}, "transform": [{"filter": "false"}], "mark": "point",
   "encoding": {"y": {"field": "v", "type": "quantitative", "scale": {"domain": [296,300], "range": [66,0], "nice": false, "zero": false}, "axis": {"values": [297,299], "orient": "left", "labels": false, "domain": false, "tickSize": 2.5, "title": null}}}},
  {"data": {"name": "pts"}, "transform": [{"filter": "datum.p==='J' && datum.v<=9.8"}, {"joinaggregate": [{"op": "count", "as": "n"}], "groupby": ["g","v"]}, {"window": [{"op": "row_number", "as": "i"}], "groupby": ["g","v"]}, {"calculate": "(datum.i-(datum.n+1)/2)*min(6,26/max(datum.n-1,1))", "as": "jit"}], "mark": "point",
   "encoding": {"xOffset": {"field": "jit", "type": "quantitative", "scale": {"domain": [-48.5,48.5]}},
    "y": {"field": "v", "type": "quantitative", "scale": {"domain": [0,9.8], "range": [233,72], "nice": false, "zero": false}, "axis": {"values": [0,2,4,6,8], "orient": "left", "title": "MIC [µg/mL]", "titleX": -43, "titleY": 116.5, "titleAngle": -90, "titleAlign": "center", "titleBaseline": "middle"}},
    "color": {"field": "g", "type": "nominal", "scale": {"domain": ["10%~90%","CSA-13","CSA-44","CSA-131"], "range": ["#555555","#4a1585","#b00000","#1ab41a"]}, "legend": null}}},
  {"data": {"name": "st"}, "transform": [{"filter": "datum.p==='J'"}], "mark": "rule",
   "encoding": {"y": {"field": "lo", "type": "quantitative", "scale": {"domain": [0,9.8], "range": [233,72], "nice": false, "zero": false}, "axis": null}, "y2": {"field": "hi"}}},
  {"data": {"name": "st"}, "transform": [{"filter": "datum.p==='J'"}], "mark": {"type": "tick", "size": 62},
   "encoding": {"y": {"field": "m", "type": "quantitative", "scale": {"domain": [0,9.8], "range": [233,72], "nice": false, "zero": false}, "axis": {"values": [1,3,5,7,9], "orient": "left", "labels": false, "domain": false, "tickSize": 2.5, "title": null}}}},
  {"data": {"name": "st"}, "transform": [{"filter": "datum.p==='J'"}, {"fold": ["lo","hi"], "as": ["k","val"]}], "mark": {"type": "tick", "size": 30},
   "encoding": {"y": {"field": "val", "type": "quantitative", "scale": {"domain": [0,9.8], "range": [233,72], "nice": false, "zero": false}, "axis": null}}},
  {"data": {"name": "one"}, "mark": "text",
   "encoding": {"x": {"datum": "CSA-13", "bandPosition": 0}, "y": {"datum": 9.8, "type": "quantitative", "scale": {"domain": [0,9.8], "range": [233,72], "nice": false, "zero": false}, "axis": null}}}
 ],
 "resolve": {"scale": {"y": "independent"}, "axis": {"y": "independent"}}}
]
}
